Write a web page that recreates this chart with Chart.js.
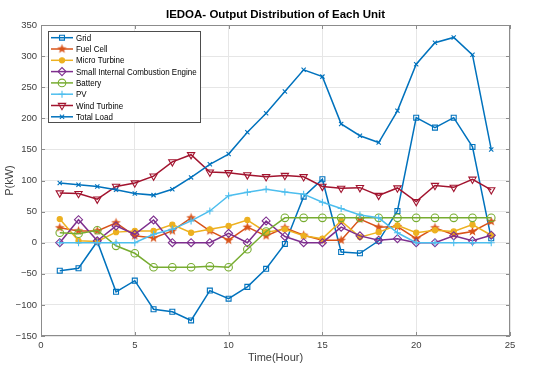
<!DOCTYPE html>
<html>
<head>
<meta charset="utf-8">
<script src="https://cdn.jsdelivr.net/npm/chart.js@4"></script>
<style>
  html, body { margin: 0; padding: 0; background: #fff; }
  #wrap { width: 550px; height: 374px; }
</style>
</head>
<body>
<div id="wrap"><canvas id="chart" width="550" height="374"></canvas></div>
<script>
const hours = [1,2,3,4,5,6,7,8,9,10,11,12,13,14,15,16,17,18,19,20,21,22,23,24];
const seriesNames = ["Grid", "Fuel Cell", "Micro Turbine", "Small Internal Combustion Engine", "Battery", "PV", "Wind Turbine", "Total Load"];

const gridPower = [-45,-41,2,-79,-61,-107,-111,-125,-77,-90,-71,-42,-2,74,102,-15,-17,3,51,201,185,201,154,7];
const fuelCell = [24,19,19,32,11,7.5,19,40,19,4,25,11,24,12,4,4,38,25,26,6.5,24,13,18,34];
const microTurbine = [38,3,2,17,19,19,29,16,21.5,27,36.5,17,21.5,11,6.5,35,9,17,28,16,20,18,29,12];
const smallICE = [0,37,3,27,13.5,36.5,0,0,0,15,0,35,10,0,0,25,11,4,6.5,0,0,11,3,12];
const battery = [16,14.5,20,-5,-17,-39.5,-39.5,-39.5,-38,-39.5,-10.5,18,40,40,40,40,40,40,40,40,40,40,40,40];
const pv = [0,0,0,0,0,13.5,21.5,35,51,75.5,81,86,81.5,78,65,55,44.5,40,16,0,0,0,0,0];
const windTurbine = [80,79,70,90.5,96,107,130,141.5,113.5,112.5,109,106,108,106,90.5,87.5,88.5,76,88,66,92,89,102,85];
const totalLoad = [96,93,90.5,85,79,76.5,86,105,126,142.5,177.5,208,243,278,267,191,172,161,212,287,321.5,330,302,150];

const xTicks = [0, 5, 10, 15, 20, 25];
const yTicks = [-150, -100, -50, 0, 50, 100, 150, 200, 250, 300, 350];

const colors = ["#0072BD", "#D95319", "#EDB120", "#7E2F8E", "#77AC30", "#4DBEEE", "#A2142F", "#0072BD"];
const titleText = "IEDOA- Output Distribution of Each Unit";

// five-pointed star marker for Fuel Cell
function makeStar(color, size) {
  const c = document.createElement("canvas");
  c.width = size; c.height = size;
  const g = c.getContext("2d");
  const cx = size / 2, cy = size / 2, ro = size / 2 - 0.5, ri = ro * 0.42;
  g.beginPath();
  for (let i = 0; i < 10; i++) {
    const r = i % 2 === 0 ? ro : ri;
    const a = -Math.PI / 2 + i * Math.PI / 5;
    g.lineTo(cx + r * Math.cos(a), cy + r * Math.sin(a));
  }
  g.closePath();
  g.fillStyle = color;
  g.fill();
  return c;
}

const styles = [
  { pointStyle: "rect", radius: 3.5, rotation: 0, fill: false },
  { pointStyle: makeStar(colors[1], 11), radius: 5, rotation: 0, fill: false },
  { pointStyle: "circle", radius: 2.6, rotation: 0, fill: true },
  { pointStyle: "rectRot", radius: 4, rotation: 0, fill: false },
  { pointStyle: "circle", radius: 3.8, rotation: 0, fill: false },
  { pointStyle: "cross", radius: 3.5, rotation: 0, fill: false },
  { pointStyle: "triangle", radius: 4.2, rotation: 180, fill: false },
  { pointStyle: "crossRot", radius: 3, rotation: 0, fill: false }
];

const seriesValues = [gridPower, fuelCell, microTurbine, smallICE, battery, pv, windTurbine, totalLoad];

const datasets = seriesValues.map((vals, i) => ({
  label: seriesNames[i],
  data: vals.map((v, k) => ({ x: hours[k], y: v })),
  borderColor: colors[i],
  backgroundColor: styles[i].fill ? colors[i] : "rgba(0,0,0,0)",
  pointBorderColor: colors[i],
  pointBackgroundColor: styles[i].fill ? colors[i] : "rgba(0,0,0,0)",
  pointStyle: styles[i].pointStyle,
  pointRadius: styles[i].radius,
  pointRotation: styles[i].rotation,
  pointBorderWidth: 1.1,
  borderWidth: 1.5,
  tension: 0,
  order: 7 - i
}));

const tickColor = "#404040";
const font = "'Liberation Sans', Arial, sans-serif";

// MATLAB-like box, inward ticks, title and legend drawn inside the axes
const boxPlugin = {
  id: "boxPlugin",
  afterDraw(chart) {
    const ctx = chart.ctx;
    const a = chart.chartArea;
    const xs = chart.scales.x, ys = chart.scales.y;
    ctx.save();
    ctx.strokeStyle = "#8c8c8c";
    ctx.lineWidth = 1;
    ctx.strokeRect(a.left + 0.5, a.top + 0.5, a.right - a.left - 1, a.bottom - a.top - 1);
    ctx.beginPath();
    xTicks.forEach(t => {
      const px = Math.round(xs.getPixelForValue(t)) + 0.5;
      ctx.moveTo(px, a.bottom); ctx.lineTo(px, a.bottom - 4);
      ctx.moveTo(px, a.top); ctx.lineTo(px, a.top + 4);
    });
    yTicks.forEach(t => {
      const py = Math.round(ys.getPixelForValue(t)) + 0.5;
      ctx.moveTo(a.left, py); ctx.lineTo(a.left + 4, py);
      ctx.moveTo(a.right, py); ctx.lineTo(a.right - 4, py);
    });
    ctx.stroke();

    // title centred over the axes
    ctx.fillStyle = "#000";
    ctx.font = "bold 11.5px " + font;
    ctx.textAlign = "center";
    ctx.textBaseline = "middle";
    ctx.fillText(titleText, (a.left + a.right) / 2, 15);

    // legend
    const lx = 48, ly = 31, lw = 152, lh = 91;
    ctx.fillStyle = "#fff";
    ctx.fillRect(lx, ly, lw, lh);
    ctx.strokeStyle = "#4d4d4d";
    ctx.strokeRect(lx + 0.5, ly + 0.5, lw, lh);
    ctx.font = "9.5px " + font;
    ctx.textAlign = "left";
    chart.data.datasets.forEach((ds, i) => {
      const y = ly + 6.7 + i * 11.3;
      ctx.strokeStyle = ds.borderColor;
      ctx.lineWidth = 1.5;
      ctx.beginPath();
      ctx.moveTo(lx + 3, y); ctx.lineTo(lx + 25, y);
      ctx.stroke();
      ctx.fillStyle = ds.pointBackgroundColor;
      ctx.strokeStyle = ds.pointBorderColor;
      ctx.lineWidth = 1.1;
      Chart.helpers.drawPoint(ctx, {
        pointStyle: ds.pointStyle,
        rotation: ds.pointRotation,
        radius: ds.pointRadius,
        borderWidth: 1.1
      }, lx + 14, y);
      // legend text is a bit condensed in the original
      ctx.save();
      ctx.translate(lx + 28, y + 0.5);
      ctx.scale(0.84, 1);
      ctx.fillStyle = "#000";
      ctx.fillText(ds.label, 0, 0);
      ctx.restore();
    });
    ctx.restore();
  }
};

new Chart(document.getElementById("chart"), {
  type: "line",
  data: { datasets },
  options: {
    responsive: false,
    animation: false,
    layout: { padding: { left: 0, right: 40, top: 25, bottom: 0 } },
    plugins: {
      legend: { display: false },
      tooltip: { enabled: false },
      title: { display: false }
    },
    scales: {
      x: {
        type: "linear",
        min: 0, max: 25,
        afterBuildTicks: s => { s.ticks = xTicks.map(v => ({ value: v })); },
        afterFit: s => { s.height = 38; },
        grid: { color: "#e6e6e6", drawTicks: false },
        border: { display: false },
        ticks: {
          color: tickColor,
          padding: 4,
          font: { family: font, size: 9.5 }
        },
        title: {
          display: true,
          text: "Time(Hour)",
          color: tickColor,
          padding: { top: 0, bottom: 9 },
          font: { family: font, size: 11 }
        }
      },
      y: {
        min: -150, max: 350,
        afterBuildTicks: s => { s.ticks = yTicks.map(v => ({ value: v })); },
        afterFit: s => { s.width = 41; },
        grid: { color: "#e6e6e6", drawTicks: false },
        border: { display: false },
        ticks: {
          color: tickColor,
          padding: 4,
          font: { family: font, size: 9.5 },
          callback: v => String(v).replace("-", "\u2212")
        },
        title: {
          display: true,
          text: "P(kW)",
          color: tickColor,
          padding: { top: 3, bottom: 0 },
          font: { family: font, size: 11 }
        }
      }
    }
  },
  plugins: [boxPlugin]
});
</script>
</body>
</html>
